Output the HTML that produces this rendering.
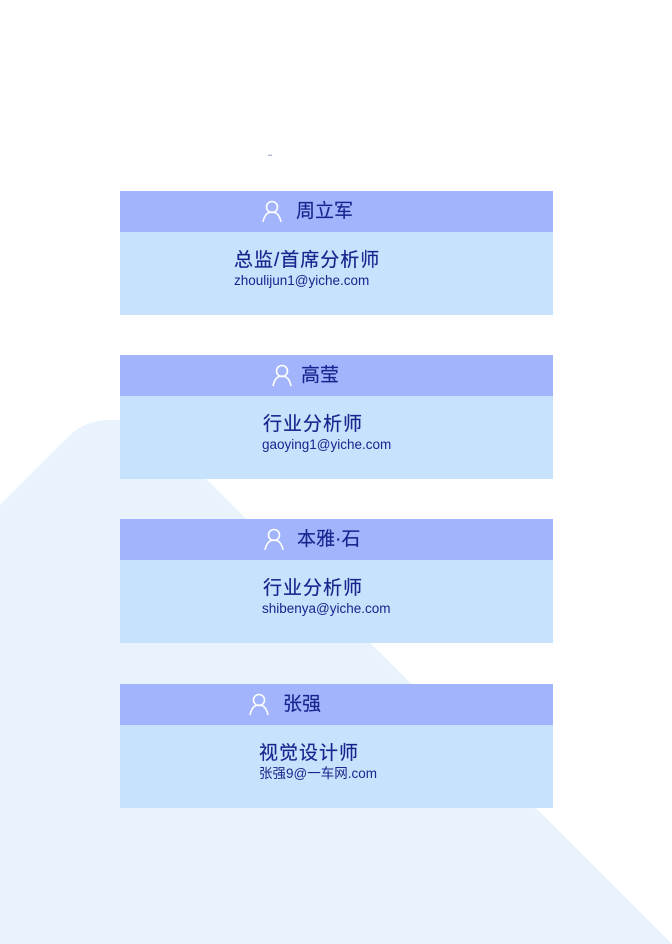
<!DOCTYPE html>
<html><head><meta charset="utf-8"><style>
*{margin:0;padding:0;box-sizing:border-box}
body{width:672px;height:944px;position:relative;overflow:hidden;background:#fff;font-family:"Liberation Sans","Noto Sans CJK SC",sans-serif;color:#17258e}
.bg{position:absolute;left:0;top:0}
.card{position:absolute;left:120px;width:433px;height:124px}
.hd{position:absolute;left:0;top:0;width:433px;height:41px;background:#a1b4fc}
.bd{position:absolute;left:0;top:41px;width:433px;height:83px;background:#c7e2fc}
.ic{position:absolute;top:9px}
.nm{position:absolute;top:0;line-height:41px;font-size:19px;-webkit-text-stroke:0.15px #17258e}
.tt{position:absolute;top:58px;font-size:19px;line-height:24px;letter-spacing:1px;-webkit-text-stroke:0.2px #17258e}
.em{position:absolute;top:82px;font-size:13.5px;line-height:16px}
</style></head><body>
<svg class="bg" width="672" height="944"><path d="M0 505 L68 437 Q85 420 110 420 L140 420 Q146 420 152 425 L672 944 L0 944 Z" fill="#e8f3fd"/></svg>
<div style="position:absolute;left:268px;top:153px;font-size:5px;color:#3050a0">ꟷ</div>

<div class="card" style="top:191px">
<div class="hd"></div><div class="bd"></div>
<svg class="ic" style="left:141px" width="22" height="24"><circle cx="11" cy="7" r="5.5" fill="none" stroke="#fff" stroke-width="1.6"/><path d="M2 22 Q4 12 11 12 Q18 12 20 22" fill="none" stroke="#fff" stroke-width="1.6"/></svg>
<div class="nm" style="left:176px">周立军</div>
<div class="tt" style="left:114px">总监/首席分析师</div>
<div class="em" style="left:114px">zhoulijun1@yiche.com</div>
</div>

<div class="card" style="top:355px">
<div class="hd"></div><div class="bd"></div>
<svg class="ic" style="left:151px" width="22" height="24"><circle cx="11" cy="7" r="5.5" fill="none" stroke="#fff" stroke-width="1.6"/><path d="M2 22 Q4 12 11 12 Q18 12 20 22" fill="none" stroke="#fff" stroke-width="1.6"/></svg>
<div class="nm" style="left:181px">高莹</div>
<div class="tt" style="left:143px">行业分析师</div>
<div class="em" style="left:142px">gaoying1@yiche.com</div>
</div>

<div class="card" style="top:519px">
<div class="hd"></div><div class="bd"></div>
<svg class="ic" style="left:143px" width="22" height="24"><circle cx="11" cy="7" r="5.5" fill="none" stroke="#fff" stroke-width="1.6"/><path d="M2 22 Q4 12 11 12 Q18 12 20 22" fill="none" stroke="#fff" stroke-width="1.6"/></svg>
<div class="nm" style="left:177px">本雅·石</div>
<div class="tt" style="left:143px">行业分析师</div>
<div class="em" style="left:142px">shibenya@yiche.com</div>
</div>

<div class="card" style="top:684px">
<div class="hd"></div><div class="bd"></div>
<svg class="ic" style="left:128px" width="22" height="24"><circle cx="11" cy="7" r="5.5" fill="none" stroke="#fff" stroke-width="1.6"/><path d="M2 22 Q4 12 11 12 Q18 12 20 22" fill="none" stroke="#fff" stroke-width="1.6"/></svg>
<div class="nm" style="left:163px">张强</div>
<div class="tt" style="left:139px">视觉设计师</div>
<div class="em" style="left:139px">张强9@一车网.com</div>
</div>
</body></html>
